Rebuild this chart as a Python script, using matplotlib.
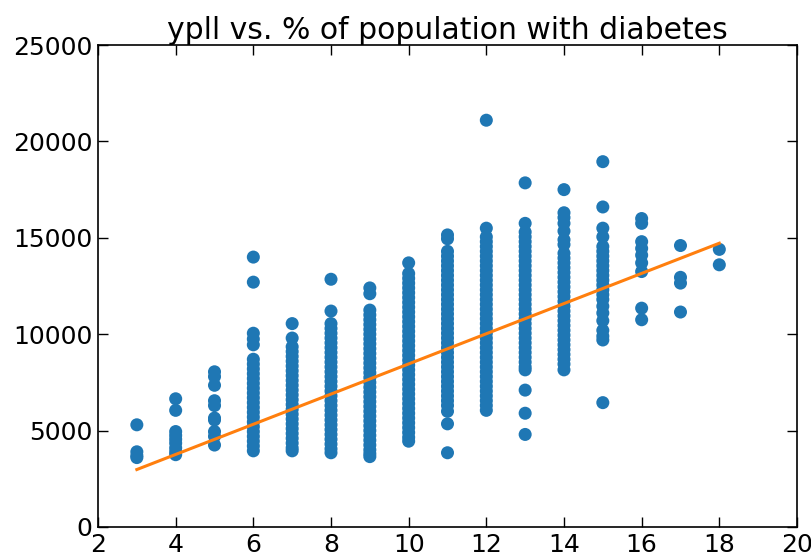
import matplotlib
matplotlib.use("Agg")
import matplotlib.pyplot as plt
import numpy as np

# % of population with diabetes (x) and ypll values (y) per column
x3 = [5300, 3900, 3700, 3600]
x4 = [6650, 6050, 4950, 4750, 4550, 4350, 4100, 3900, 3750]
x5 = [8050, 7800, 7350, 6550, 6300, 5650, 5550, 4950, 4700, 4250]
x6 = [14000, 12700, 10050, 9750, 9450, 8700, 8450, 8200, 7950, 7700, 7450,
      7200, 6950, 6700, 6450, 6200, 5950, 5700, 5450, 5200, 4950, 4700,
      4450, 4200, 3950]
x7 = [10550, 9800, 9350, 9100, 8850, 8600, 8350, 8100, 7850, 7600, 7350,
      7100, 6850, 6600, 6350, 6100, 5850, 5600, 5350, 5100, 4850, 4600,
      4350, 4100, 3950]
x8 = [12850, 11200, 10550, 10300, 10050, 9800, 9550, 9300, 9050, 8800, 8550,
      8300, 8050, 7800, 7550, 7300, 7050, 6800, 6550, 6300, 6050, 5800,
      5550, 5300, 5050, 4800, 4550, 4300, 4050, 3850]
x9 = [12400, 12100, 11250, 11000, 10750, 10500, 10250, 10000, 9750, 9500,
      9250, 9000, 8750, 8500, 8250, 8000, 7750, 7500, 7250, 7000, 6750,
      6500, 6250, 6000, 5750, 5500, 5250, 5000, 4750, 4500, 4250, 4000,
      3800, 3650]
x10 = [13700, 13150, 12900, 12650, 12400, 12150, 11900, 11650, 11400, 11150,
       10900, 10650, 10400, 10150, 9900, 9650, 9400, 9150, 8900, 8650, 8400,
       8150, 7900, 7650, 7400, 7150, 6900, 6650, 6400, 6150, 5900, 5650,
       5400, 5150, 4900, 4650, 4450]
x11 = [15150, 14950, 14300, 14050, 13800, 13550, 13300, 13050, 12800, 12550,
       12300, 12050, 11800, 11550, 11300, 11050, 10800, 10550, 10300, 10050,
       9800, 9550, 9300, 9050, 8800, 8550, 8300, 8050, 7800, 7550, 7300,
       7050, 6800, 6550, 6300, 6000, 5350, 3850]
x12 = [21100, 15500, 15050, 14800, 14550, 14300, 14050, 13800, 13550, 13300,
       13050, 12800, 12550, 12300, 12050, 11800, 11550, 11300, 11050, 10800,
       10550, 10300, 10050, 9800, 9550, 9300, 9050, 8800, 8550, 8300, 8050,
       7800, 7550, 7300, 7050, 6800, 6550, 6300, 6050]
x13 = [17850, 15750, 15300, 15050, 14800, 14550, 14300, 14050, 13800, 13550,
       13300, 13050, 12800, 12550, 12300, 12050, 11800, 11550, 11300, 11050,
       10800, 10550, 10300, 10050, 9800, 9550, 9300, 9050, 8800, 8550, 8300,
       8150, 7100, 5900, 4800]
x14 = [17500, 16300, 16050, 15750, 15350, 14900, 14650, 14200, 13950, 13700,
       13450, 13200, 12950, 12700, 12450, 12200, 11950, 11700, 11450, 11200,
       10950, 10700, 10450, 10200, 9950, 9700, 9450, 9200, 8950, 8700, 8450,
       8150]
x15 = [18950, 16600, 15500, 15050, 14550, 14300, 14050, 13800, 13550, 13300,
       13050, 12800, 12550, 12300, 12050, 11800, 11450, 11100, 10700, 10200,
       9900, 9700, 6450]
x16 = [16000, 15750, 14800, 14450, 14100, 13700, 13250, 11350, 10750]
x17 = [14600, 12950, 12650, 11150]
x18 = [14400, 13600]

columns = {3: x3, 4: x4, 5: x5, 6: x6, 7: x7, 8: x8, 9: x9, 10: x10,
           11: x11, 12: x12, 13: x13, 14: x14, 15: x15, 16: x16, 17: x17,
           18: x18}

# fitted regression line endpoints
fit_x = [3, 18]
fit_y = [2980, 14720]

xs = []
ys = []
for k, vals in columns.items():
    xs.extend([k] * len(vals))
    ys.extend(vals)

fig = plt.figure(figsize=(8.12, 5.56), dpi=100)
ax = fig.add_axes([0.1207, 0.0522, 0.8608, 0.8668])
ax.scatter(xs, ys, s=88, color="#1f77b4", edgecolors="none", zorder=2)
ax.plot(fit_x, fit_y, color="#ff7f0e", linewidth=2.2, zorder=3)

ax.set_xlim(2, 20)
ax.set_ylim(0, 25000)
ax.set_xticks([2, 4, 6, 8, 10, 12, 14, 16, 18, 20])
ax.set_yticks([0, 5000, 10000, 15000, 20000, 25000])
ax.tick_params(direction="in", top=True, right=True, length=7, width=1,
               labelsize=18, pad=4)
for sp in ax.spines.values():
    sp.set_linewidth(1.2)
ax.set_title("ypll vs. % of population with diabetes", fontsize=21.5, pad=4)

fig.savefig("out.png", dpi=100)
